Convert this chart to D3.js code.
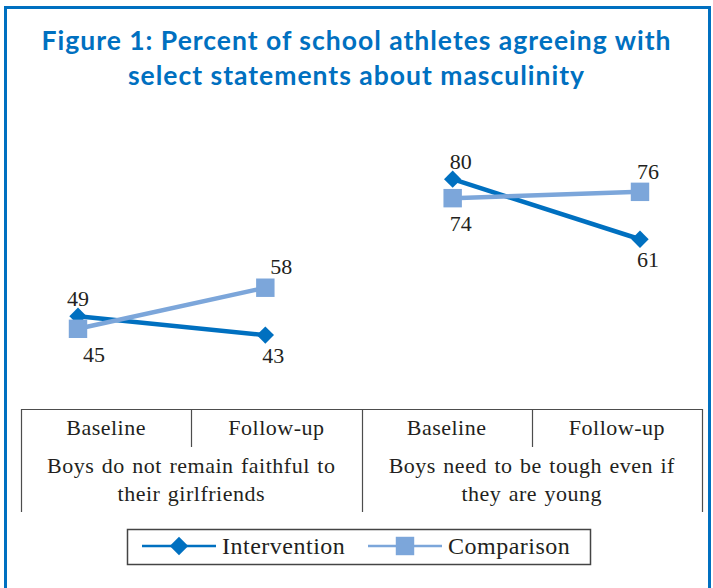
<!DOCTYPE html>
<html>
<head>
<meta charset="utf-8">
<script src="https://cdn.jsdelivr.net/npm/d3@7"></script>
<style>
  body { margin: 0; background: #fff; }
  svg { display: block; }
</style>
</head>
<body>
<div id="wrapper"></div>
<script>
// Data
const titleLines = [
  "Figure 1: Percent of school athletes agreeing with",
  "select statements about masculinity",
];
const statements = [
  ["Boys do not remain faithful to", "their girlfriends"],
  ["Boys need to be tough even if", "they are young"],
];
const periods = ["Baseline", "Follow-up"];
const seriesNames = ["Intervention", "Comparison"];
const intervention = [49, 43, 80, 61];
const comparison = [45, 58, 74, 76];

function drawChart() {
  const dimensions = {
    width: 713,
    height: 588,
    plotLeft: 78,
    plotRight: 640,
    table: { left: 21, right: 702, top: 409, mid: 447, bottom: 512 },
  };

  const blue = "#0070C0";
  const lightBlue = "#7CA6DA";
  const textColor = "#231F20";
  const serif = "'Liberation Serif', 'Times New Roman', serif";

  const wrapper = d3
    .select("#wrapper")
    .append("svg")
    .attr("width", dimensions.width)
    .attr("height", dimensions.height);

  // outer frame
  wrapper
    .append("rect")
    .attr("x", 5.5)
    .attr("y", 7.5)
    .attr("width", 704)
    .attr("height", 600)
    .attr("fill", "none")
    .attr("stroke", blue)
    .attr("stroke-width", 3);

  // title
  wrapper
    .append("g")
    .selectAll("text")
    .data(titleLines)
    .join("text")
    .attr("x", dimensions.width / 2)
    .attr("y", (d, i) => 50 + i * 35)
    .attr("text-anchor", "middle")
    .attr("fill", blue)
    .style("font-family", "Lato, 'Open Sans', sans-serif")
    .style("font-weight", "bold")
    .style("font-size", "26.5px")
    .style("letter-spacing", "1px")
    .text((d) => d);

  // scales
  const categories = statements.flatMap((s, si) =>
    periods.map((p) => `${si}-${p}`)
  );
  const xScale = d3
    .scalePoint()
    .domain(categories)
    .range([dimensions.plotLeft, dimensions.plotRight]);

  // each statement panel sits on its own vertical baseline
  const panelBase = [471, 432];
  const yScales = panelBase.map((b) =>
    d3.scaleLinear().domain([0, 100]).range([b, b - 316])
  );

  const series = [
    { name: seriesNames[0], values: intervention, color: blue, shape: "diamond" },
    { name: seriesNames[1], values: comparison, color: lightBlue, shape: "square" },
  ];

  const points = (s) =>
    s.values.map((v, i) => {
      const panel = Math.floor(i / 2);
      const other = series.find((o) => o !== s).values[i];
      return {
        value: v,
        panel,
        x: xScale(categories[i]),
        y: yScales[panel](v),
        above: v > other,
      };
    });

  const plot = wrapper.append("g").attr("class", "plot");
  const lineGen = d3.line().x((d) => d.x).y((d) => d.y);

  series.forEach((s) => {
    const pts = points(s);
    const g = plot.append("g");
    d3.range(statements.length).forEach((p) => {
      g.append("path")
        .datum(pts.filter((d) => d.panel === p))
        .attr("d", lineGen)
        .attr("fill", "none")
        .attr("stroke", s.color)
        .attr("stroke-width", 4.5);
    });
    const symbol = d3
      .symbol()
      .type(d3.symbolSquare)
      .size(s.shape === "diamond" ? 150 : 340);
    g.selectAll(".marker")
      .data(pts)
      .join("path")
      .attr("class", "marker")
      .attr("d", symbol)
      .attr(
        "transform",
        (d) =>
          `translate(${d.x},${d.y})` + (s.shape === "diamond" ? " rotate(45)" : "")
      )
      .attr("fill", s.color);
  });

  // value labels
  series.forEach((s) => {
    const pts = points(s);
    plot
      .append("g")
      .selectAll("text")
      .data(pts)
      .join("text")
      .attr("x", (d) =>
        d.x + (s.shape === "square" && d.panel === 0 ? 16 : d.above && d.panel === 0 ? 0 : 8)
      )
      .attr("y", (d) =>
        d.y + (d.above ? (s.shape === "square" ? -21 : -18) : s.shape === "square" ? 25 : 20)
      )
      .attr("dy", "0.35em")
      .attr("text-anchor", "middle")
      .attr("fill", textColor)
      .style("font-family", serif)
      .style("font-size", "22px")
      .text((d) => d.value);
  });

  // category table
  const t = dimensions.table;
  const colScale = d3
    .scaleBand()
    .domain(categories)
    .range([t.left, t.right]);
  const groupScale = d3
    .scaleBand()
    .domain(d3.range(statements.length))
    .range([t.left, t.right]);

  const table = wrapper.append("g").attr("class", "table");
  const gridColor = "#4d4d4d";
  table
    .append("line")
    .attr("x1", t.left)
    .attr("x2", t.right)
    .attr("y1", t.top + 0.5)
    .attr("y2", t.top + 0.5)
    .attr("stroke", gridColor)
    .attr("stroke-width", 1.2);
  // short dividers between periods
  table
    .selectAll(".periodDiv")
    .data(categories.filter((c, i) => i % 2 === 1))
    .join("line")
    .attr("class", "periodDiv")
    .attr("x1", (d) => Math.round(colScale(d)) + 0.5)
    .attr("x2", (d) => Math.round(colScale(d)) + 0.5)
    .attr("y1", t.top)
    .attr("y2", t.mid)
    .attr("stroke", gridColor)
    .attr("stroke-width", 1.2);
  // full-height dividers between statements
  table
    .selectAll(".groupDiv")
    .data(d3.range(statements.length + 1))
    .join("line")
    .attr("class", "groupDiv")
    .attr("x1", (d) => Math.round(t.left + d * groupScale.bandwidth()) + 0.5)
    .attr("x2", (d) => Math.round(t.left + d * groupScale.bandwidth()) + 0.5)
    .attr("y1", t.top)
    .attr("y2", t.bottom)
    .attr("stroke", gridColor)
    .attr("stroke-width", 1.2);

  const tableText = (sel) =>
    sel
      .attr("text-anchor", "middle")
      .attr("fill", textColor)
      .style("font-family", serif)
      .style("font-size", "22px")
      .style("letter-spacing", "0.5px")
      .style("word-spacing", "1.5px");

  table
    .selectAll(".periodLabel")
    .data(categories)
    .join("text")
    .attr("class", "periodLabel")
    .attr("x", (d) => colScale(d) + colScale.bandwidth() / 2)
    .attr("y", 435)
    .call(tableText)
    .text((d) => d.split("-").slice(1).join("-"));

  statements.forEach((lines, i) => {
    table
      .append("g")
      .selectAll("text")
      .data(lines)
      .join("text")
      .attr("x", groupScale(i) + groupScale.bandwidth() / 2)
      .attr("y", (d, j) => 473 + j * 28)
      .call(tableText)
      .text((d) => d);
  });

  // legend
  const legend = wrapper.append("g").attr("class", "legend");
  legend
    .append("rect")
    .attr("x", 127.5)
    .attr("y", 529.5)
    .attr("width", 463)
    .attr("height", 35)
    .attr("fill", "none")
    .attr("stroke", "#444")
    .attr("stroke-width", 1.5);

  const legendX = [142, 368];
  series.forEach((s, i) => {
    const g = legend.append("g").attr("transform", `translate(${legendX[i]},546)`);
    g.append("line")
      .attr("x1", 0)
      .attr("x2", 74)
      .attr("stroke", s.color)
      .attr("stroke-width", 2.5);
    g.append("path")
      .attr(
        "d",
        d3.symbol().type(d3.symbolSquare).size(s.shape === "diamond" ? 170 : 340)
      )
      .attr("transform", `translate(37,0)` + (s.shape === "diamond" ? " rotate(45)" : ""))
      .attr("fill", s.color);
    g.append("text")
      .attr("x", 80)
      .attr("y", 0)
      .attr("dy", "0.34em")
      .attr("fill", textColor)
      .style("font-family", serif)
      .style("font-size", "24px")
      .style("letter-spacing", "0.5px")
      .text(s.name);
  });
}

drawChart();
</script>
</body>
</html>
